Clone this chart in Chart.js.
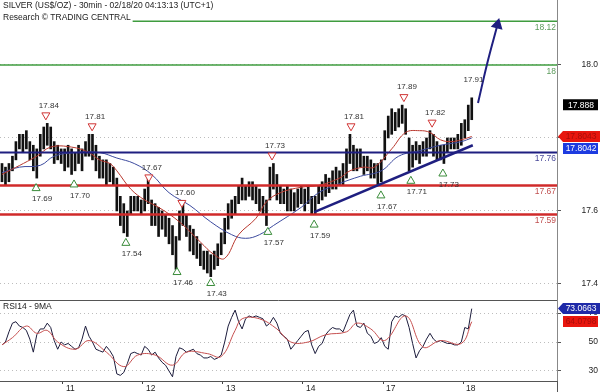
<!DOCTYPE html>
<html>
<head>
<meta charset="utf-8">
<script src="https://cdn.jsdelivr.net/npm/chart.js@4/dist/chart.umd.min.js"></script>
<style>
html, body { margin: 0; padding: 0; background: #fff; }
#wrap { position: relative; width: 600px; height: 392px; }
canvas { position: absolute; left: 0; }
#price { top: 0; }
#rsi { top: 300px; }
</style>
</head>
<body>
<div id="wrap">
  <canvas id="price" width="600" height="300"></canvas>
  <canvas id="rsi" width="600" height="92"></canvas>
</div>
<script>
// 1h bars, index 0 = first bar on the left
const highs = [
  17.73, 17.72, 17.73, 17.75, 17.79, 17.81, 17.81, 17.82, 17.79, 17.78,
  17.77, 17.81, 17.83, 17.84, 17.83, 17.79, 17.78, 17.77, 17.77, 17.78,
  17.77, 17.76, 17.78, 17.77, 17.79, 17.81, 17.81, 17.78, 17.75, 17.74,
  17.74, 17.73, 17.72, 17.69, 17.64, 17.62, 17.60, 17.64, 17.64, 17.64,
  17.63, 17.66, 17.69, 17.63, 17.62, 17.61, 17.60, 17.59, 17.58, 17.56,
  17.53, 17.60, 17.62, 17.59, 17.56, 17.55, 17.53, 17.51, 17.49, 17.49,
  17.48, 17.49, 17.51, 17.54, 17.58, 17.62, 17.63, 17.64, 17.67, 17.69,
  17.67, 17.68, 17.68, 17.67, 17.66, 17.64, 17.63, 17.72, 17.73, 17.70,
  17.67, 17.66, 17.67, 17.66, 17.65, 17.66, 17.67, 17.66, 17.67, 17.64,
  17.64, 17.67, 17.68, 17.70, 17.69, 17.71, 17.72, 17.71, 17.73, 17.77,
  17.81, 17.78, 17.77, 17.77, 17.75, 17.75, 17.74, 17.73, 17.73, 17.74,
  17.82, 17.86, 17.88, 17.87, 17.88, 17.89, 17.88, 17.80, 17.78, 17.79,
  17.78, 17.79, 17.80, 17.82, 17.81, 17.79, 17.78, 17.78, 17.80, 17.80,
  17.80, 17.81, 17.84, 17.85, 17.89, 17.91
];
const lows = [
  17.68, 17.67, 17.68, 17.71, 17.74, 17.77, 17.76, 17.77, 17.74, 17.71,
  17.69, 17.75, 17.77, 17.78, 17.77, 17.73, 17.74, 17.73, 17.71, 17.72,
  17.70, 17.71, 17.73, 17.71, 17.75, 17.75, 17.74, 17.71, 17.69, 17.69,
  17.67, 17.68, 17.67, 17.60, 17.56, 17.54, 17.53, 17.59, 17.60, 17.60,
  17.59, 17.60, 17.62, 17.56, 17.56, 17.53, 17.55, 17.53, 17.51, 17.48,
  17.44, 17.52, 17.56, 17.53, 17.49, 17.48, 17.47, 17.45, 17.44, 17.43,
  17.42, 17.44, 17.45, 17.48, 17.51, 17.55, 17.58, 17.59, 17.62, 17.63,
  17.63, 17.64, 17.63, 17.62, 17.60, 17.59, 17.56, 17.63, 17.66, 17.63,
  17.62, 17.62, 17.60, 17.60, 17.60, 17.61, 17.62, 17.60, 17.62, 17.59,
  17.59, 17.62, 17.63, 17.64, 17.65, 17.66, 17.66, 17.67, 17.67, 17.69,
  17.73, 17.71, 17.71, 17.72, 17.70, 17.71, 17.69, 17.69, 17.67, 17.68,
  17.74, 17.80, 17.81, 17.82, 17.83, 17.84, 17.81, 17.71, 17.72, 17.74,
  17.73, 17.75, 17.75, 17.77, 17.75, 17.74, 17.74, 17.73, 17.76, 17.77,
  17.77, 17.77, 17.78, 17.80, 17.82, 17.85
];

const maFastX = [0, 10, 14, 20, 25, 28, 31, 33, 37, 41, 45, 51, 57, 61, 64, 68, 73, 76, 80, 86, 91, 97, 100, 104, 107, 112, 116, 120, 123, 126, 129, 132, 135];
const maFast  = [17.70, 17.75, 17.775, 17.775, 17.76, 17.74, 17.73, 17.71, 17.66, 17.63, 17.61, 17.57, 17.515, 17.48, 17.47, 17.535, 17.58, 17.625, 17.65, 17.665, 17.67, 17.69, 17.71, 17.72, 17.72, 17.77, 17.815, 17.82, 17.815, 17.795, 17.79, 17.795, 17.804];
const maSlowX = [0, 5, 11, 15, 21, 28, 33, 38, 43, 48, 54, 60, 66, 70, 74, 78, 86, 91, 97, 103, 109, 114, 120, 126, 132, 135];
const maSlow  = [17.705, 17.72, 17.725, 17.75, 17.76, 17.76, 17.745, 17.73, 17.70, 17.65, 17.615, 17.57, 17.535, 17.525, 17.535, 17.56, 17.61, 17.65, 17.675, 17.695, 17.71, 17.75, 17.765, 17.78, 17.79, 17.80];

// analyst levels
const levelValues = [18.12, 18.0, 17.76, 17.67, 17.59];
const levelText   = ['18.12', '18', '17.76', '17.67', '17.59'];

// support trend line and target arrow
const trendX = [89.7, 135.3];
const trendY = [17.597, 17.78];
const arrowX = [136.8, 139.6, 142.4];
const arrowY = [17.896, 18.01, 18.11];

// swing highs / lows
const hiX   = [12.6, 25.9, 42.2, 51.7, 77.6, 100.3, 115.5, 123.6];
const hiVal = [17.84, 17.81, 17.67, 17.60, 17.73, 17.81, 17.89, 17.82];
const loX   = [9.8, 20.7, 35.6, 50.3, 60, 76.4, 89.7, 108.9, 117.5, 126.7];
const loVal = [17.69, 17.70, 17.54, 17.46, 17.43, 17.57, 17.59, 17.67, 17.71, 17.73];
const peakX = 135.5, peakVal = 17.91;

// RSI(14) per bar, and its 9-period average read at a few bars
const rsi = [
  48, 50, 57, 63, 64, 61, 60, 58, 52, 43,
  55, 59, 59, 63, 60, 51, 45, 50, 48, 49,
  47, 45, 46, 52, 61, 54, 50, 45, 44, 43,
  47, 44, 40, 28, 27, 29, 35, 42, 43, 42,
  41, 47, 45, 41, 43, 39, 36, 34, 30, 26,
  40, 46, 45, 43, 44, 45, 42, 41, 39, 39,
  40, 38, 39, 41, 50, 61, 67, 72, 64, 59,
  66, 68, 67, 68, 67, 66, 61, 63, 67, 63,
  56, 54, 52, 45, 48, 51, 54, 57, 58, 48,
  42, 47, 49, 55, 58, 60, 59, 59, 57, 63,
  69, 72, 61, 60, 63, 56, 54, 49, 50, 53,
  47, 45, 64, 68, 67, 69, 68, 60, 49, 39,
  44, 47, 52, 56, 52, 50, 51, 50, 49, 49,
  48, 48, 50, 60, 59, 73
];
const rsiMaX = [0, 3, 7, 10, 13, 16, 21, 25, 30, 35, 39, 44, 49, 53, 59, 63, 67, 69, 74, 79, 83, 88, 93, 99, 102, 106, 110, 116, 121, 126, 132, 135];
const rsiMa  = [48, 53, 61, 56, 58, 50, 45, 51, 43, 33, 41, 41, 34, 43, 42, 40, 58, 66, 66, 59, 50, 50, 55, 57, 63, 59, 51, 68, 46.5, 51, 49, 64];

// axes
const dayStarts = [17.5, 40.5, 63.5, 86.5, 109.5, 132.5];
const dayLabels = ['11', '12', '13', '14', '17', '18'];
const priceTicks = [17.4, 17.6, 17.8, 18.0];
const rsiTicks = [30, 50, 70];

// last values shown in the right-hand tags
const lastClose = 17.888, lastMaFast = 17.8043, lastMaSlow = 17.8042;
const lastRsi = 73.0663, lastRsiMa = 64.0798;

const titleLines = ['SILVER (US$/OZ) - 30min - 02/18/20 04:13:13 (UTC+1)', 'Research \u00A9 TRADING CENTRAL'];

const FONT = 'Arial, "Liberation Sans", sans-serif';
const NAVY = '#1f1f80';
const levelColors = ['#3f9c3f', '#3f9c3f', NAVY, '#d02a2a', '#d02a2a'];
const levelWidths = [1.5, 1.5, 2, 2.5, 2.5];
const levelLabelColors = ['#5a9a5a', '#5a9a5a', '#4a4a9a', '#c05050', '#c05050'];
const xMin = -0.575, xMax = 159.5;

const pts = (xs, ys) => xs.map((x, i) => ({ x: x, y: ys[i] }));
const bars = highs.map((h, i) => ({ x: i, y: [lows[i], h] }));

function fixAxis(width) {
    return s => { s.width = width; s.paddingTop = 0; s.paddingBottom = 0; };
}

function drawTag(ctx, text, left, yc, bg, fg, arrow) {
    const h = 11;
    ctx.fillStyle = bg;
    ctx.beginPath();
    if (arrow) {
        ctx.moveTo(left + 1, yc);
        ctx.lineTo(left + 6, yc - h / 2);
        ctx.lineTo(600, yc - h / 2);
        ctx.lineTo(600, yc + h / 2);
        ctx.lineTo(left + 6, yc + h / 2);
        ctx.closePath();
    } else {
        ctx.rect(left + 6, yc - h / 2, 35, h);
    }
    ctx.fill();
    ctx.fillStyle = fg;
    ctx.font = '8.5px ' + FONT;
    ctx.textAlign = 'center';
    ctx.textBaseline = 'middle';
    ctx.fillText(text, left + 24, yc + 0.5);
}

const priceOverlay = {
    id: 'priceOverlay',
    afterDatasetsDraw(chart) {
        const { ctx, chartArea: a, scales: { x, y } } = chart;
        ctx.save();

        // level labels at the right edge
        ctx.font = '8.5px ' + FONT;
        ctx.textAlign = 'right';
        ctx.textBaseline = 'top';
        levelValues.forEach((v, k) => {
            ctx.fillStyle = levelLabelColors[k];
            ctx.fillText(levelText[k], a.right - 1, y.getPixelForValue(v) + 2);
        });

        // swing markers
        ctx.lineWidth = 1;
        ctx.font = '8px ' + FONT;
        ctx.textAlign = 'center';
        ctx.textBaseline = 'middle';
        hiX.forEach((xv, k) => {
            const px = x.getPixelForValue(xv), py = y.getPixelForValue(hiVal[k]) - 7;
            ctx.beginPath();
            ctx.moveTo(px - 4, py - 3.5);
            ctx.lineTo(px + 4, py - 3.5);
            ctx.lineTo(px, py + 3.5);
            ctx.closePath();
            ctx.fillStyle = '#fff';
            ctx.fill();
            ctx.strokeStyle = '#d03535';
            ctx.stroke();
            ctx.fillStyle = '#333';
            ctx.fillText(hiVal[k].toFixed(2), px + 3, py - 11);
        });
        loX.forEach((xv, k) => {
            const px = x.getPixelForValue(xv), py = y.getPixelForValue(loVal[k]) + 9;
            ctx.beginPath();
            ctx.moveTo(px - 4, py + 3.5);
            ctx.lineTo(px + 4, py + 3.5);
            ctx.lineTo(px, py - 3.5);
            ctx.closePath();
            ctx.fillStyle = '#fff';
            ctx.fill();
            ctx.strokeStyle = '#3a8c3a';
            ctx.stroke();
            ctx.fillStyle = '#333';
            ctx.fillText(loVal[k].toFixed(2), px + 6, py + 12);
        });
        ctx.fillText(peakVal.toFixed(2), x.getPixelForValue(peakX), y.getPixelForValue(peakVal) - 18);

        // title block
        ctx.font = '8.5px ' + FONT;
        ctx.textAlign = 'left';
        titleLines.forEach((t, k) => {
            const yc = 5.5 + k * 12;
            ctx.fillStyle = '#fff';
            ctx.fillRect(0, yc - 5, ctx.measureText(t).width + 5, 11);
            ctx.fillStyle = '#222';
            ctx.fillText(t, 3, yc);
        });
        ctx.restore();
    },
    afterDraw(chart) {
        const { ctx, chartArea: a, scales: { y } } = chart;
        ctx.save();
        drawTag(ctx, lastClose.toFixed(3), a.right, y.getPixelForValue(lastClose) - 1, '#000', '#fff', false);
        const ym = y.getPixelForValue(lastMaFast);
        drawTag(ctx, lastMaFast.toFixed(4), a.right, ym, '#e8160e', '#a80e0a', true);
        drawTag(ctx, lastMaSlow.toFixed(4), a.right, ym + 12, '#1d3be0', '#fff', false);
        ctx.restore();
    }
};

const rsiOverlay = {
    id: 'rsiOverlay',
    afterDraw(chart) {
        const { ctx, chartArea: a, scales: { y } } = chart;
        ctx.save();
        ctx.strokeStyle = '#555';
        ctx.lineWidth = 1;
        ctx.beginPath();
        ctx.moveTo(a.left, a.top + 0.5);
        ctx.lineTo(a.right, a.top + 0.5);
        ctx.moveTo(a.right + 0.5, a.bottom);
        ctx.lineTo(a.right + 0.5, chart.height);
        ctx.stroke();
        ctx.font = '8.5px ' + FONT;
        ctx.fillStyle = '#222';
        ctx.textAlign = 'left';
        ctx.textBaseline = 'middle';
        ctx.fillText('RSI14 - 9MA', 3, a.top + 7);
        const yr = y.getPixelForValue(lastRsi);
        drawTag(ctx, lastRsi.toFixed(4), a.right, yr, '#1f2aa8', '#fff', true);
        drawTag(ctx, lastRsiMa.toFixed(4), a.right, Math.max(y.getPixelForValue(lastRsiMa), yr + 12), '#e8160e', '#a80e0a', false);
        ctx.restore();
    }
};

const yAxisBase = {
    position: 'right',
    ticks: { crossAlign: 'far', color: '#222', font: { family: FONT, size: 8.5 }, padding: 2 },
    grid: { color: '#bdbdbd', drawTicks: true, tickLength: 4, tickColor: '#555', tickBorderDash: [] },
    border: { display: true, color: '#888', dash: [1, 3] }
};

new Chart(document.getElementById('price'), {
    type: 'bar',
    data: {
        datasets: [
            { type: 'line', data: pts(arrowX, arrowY), borderColor: NAVY, borderWidth: 2, tension: 0.4,
              pointRadius: [0, 0, 5], pointStyle: 'triangle', pointRotation: 14,
              pointBackgroundColor: NAVY, pointBorderColor: NAVY, order: 1 },
            { type: 'line', data: pts(trendX, trendY), borderColor: NAVY, borderWidth: 2.5, pointRadius: 0, order: 2 },
            ...levelValues.map((v, k) => ({
                type: 'line', data: [{ x: xMin, y: v }, { x: xMax, y: v }],
                borderColor: levelColors[k], borderWidth: levelWidths[k], pointRadius: 0, order: 3
            })),
            { type: 'line', data: pts(maFastX, maFast), borderColor: '#b8382e', borderWidth: 1, pointRadius: 0, tension: 0.4, order: 4 },
            { type: 'line', data: pts(maSlowX, maSlow), borderColor: '#3c4a9e', borderWidth: 1, pointRadius: 0, tension: 0.4, order: 5 },
            { type: 'bar', data: bars, backgroundColor: '#111', barThickness: 2, borderWidth: 0, order: 6 }
        ]
    },
    options: {
        responsive: false,
        animation: false,
        devicePixelRatio: 1,
        layout: { autoPadding: false, padding: { left: 0, right: 2, top: 0, bottom: 0 } },
        plugins: { legend: { display: false }, tooltip: { enabled: false } },
        scales: {
            x: { type: 'linear', min: xMin, max: xMax, display: false, offset: false },
            y: Object.assign({}, yAxisBase, {
                min: 17.356, max: 18.178,
                afterBuildTicks: s => { s.ticks = priceTicks.map(v => ({ value: v })); },
                afterFit: fixAxis(41),
                ticks: Object.assign({}, yAxisBase.ticks, { callback: v => v.toFixed(1) })
            })
        }
    },
    plugins: [priceOverlay]
});

new Chart(document.getElementById('rsi'), {
    type: 'line',
    data: {
        datasets: [
            { data: pts(rsiMaX, rsiMa), borderColor: '#c65050', borderWidth: 1, pointRadius: 0, tension: 0.4 },
            { data: rsi.map((v, i) => ({ x: i, y: v })), borderColor: '#1c1c3c', borderWidth: 1, pointRadius: 0 }
        ]
    },
    options: {
        responsive: false,
        animation: false,
        devicePixelRatio: 1,
        layout: { autoPadding: false, padding: { left: 0, right: 2, top: 0, bottom: 0 } },
        plugins: { legend: { display: false }, tooltip: { enabled: false } },
        scales: {
            x: {
                type: 'linear', min: xMin, max: xMax, position: 'bottom',
                afterBuildTicks: s => { s.ticks = dayStarts.map(v => ({ value: v })); },
                afterFit: s => { s.height = 11; s.paddingLeft = 0; s.paddingRight = 0; },
                ticks: { callback: (v, i) => dayLabels[i], align: 'start', labelOffset: 3, padding: 0,
                         autoSkip: false, maxRotation: 0, color: '#222', font: { family: FONT, size: 8.5 } },
                grid: { drawOnChartArea: false, drawTicks: true, tickLength: 3, tickColor: '#444' },
                border: { display: true, color: '#555' }
            },
            y: Object.assign({}, yAxisBase, {
                min: 23.1, max: 78.97,
                afterBuildTicks: s => { s.ticks = rsiTicks.map(v => ({ value: v })); },
                afterFit: fixAxis(41)
            })
        }
    },
    plugins: [rsiOverlay]
});
</script>
</body>
</html>
